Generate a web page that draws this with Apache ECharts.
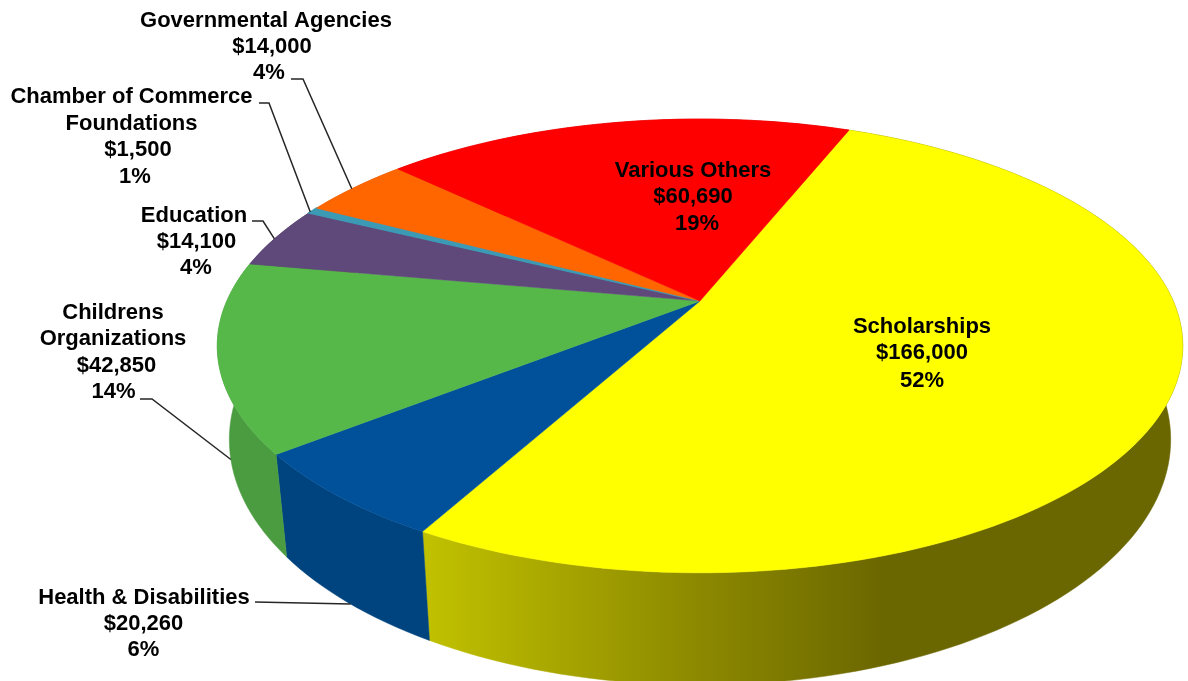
<!DOCTYPE html>
<html>
<head>
<meta charset="utf-8">
<title>Contributions</title>
<style>
  html, body { margin: 0; padding: 0; background: #fff; }
  #main { width: 1188px; height: 681px; }
</style>
<script src="https://cdn.jsdelivr.net/npm/echarts@6/dist/echarts.min.js"></script>
</head>
<body>
<div id="main"></div>
<script>
// clockwise from the first slice
const categories = [
  "Scholarships",
  "Health & Disabilities",
  "Childrens\nOrganizations",
  "Education",
  "Chamber of Commerce\nFoundations",
  "Governmental Agencies",
  "Various Others",
];
const amounts = [166000, 20260, 42850, 14100, 1500, 14000, 60690];
const percentLabels = ["52%", "6%", "14%", "4%", "1%", "4%", "19%"];

const topColors = ["#ffff00", "#00519a", "#55b848", "#5f497a", "#3c9ab5", "#ff6600", "#ff0000"];
const topStroke = [0.5, 0.5, 0.5, 0.5, 1.5, 0.5, 0.5];
const wallColors = [
  new echarts.graphic.LinearGradient(430, 0, 890, 0, [
    { offset: 0, color: "#c0c000" },
    { offset: 0.55, color: "#8f8c00" },
    { offset: 1, color: "#6a6600" },
  ], true),
  "#00447f",
  "#4b9c41",
  "#4c3a62",
  "#307b91",
  "#cc5200",
  "#cc0000",
];

// text line centres, leader start / knee, and where along the slice the leader lands
const labelLayout = [
  { lines: [[922, 327], [922, 353], [922, 381]] },
  { lines: [[144, 598], [143.5, 624], [143.5, 650]], leader: [[255, 602]], rim: "bottom", along: 0.48 },
  { lines: [[113, 313], [113, 339], [116.5, 366], [113.5, 392]], leader: [[140, 399], [152, 399]], rim: "bottom", along: 0.46 },
  { lines: [[194, 216], [196.5, 242], [196, 268]], leader: [[252, 221], [263, 221]], rim: "top", along: 0.47 },
  { lines: [[131.5, 97], [131.5, 124], [138, 150], [135, 177]], leader: [[259, 103], [269, 103]], rim: "top", along: 0.2 },
  { lines: [[266, 21], [272, 47], [269, 73]], leader: [[291, 79], [303, 79]], rim: "top", along: 0.46 },
  { lines: [[693, 171], [693, 197], [697, 224]] },
];

// tilted disc, seen in perspective
const cx = 700;
const cy = 301;
const radiusX = 473.2;
const radiusY = 218;
const tilt = 0.198;
const wallDrop = 90;
const bottomScale = 0.975;
const firstAngle = 21.9;

const total = amounts.reduce((a, b) => a + b, 0);
const sliceAngles = [];
let running = firstAngle;
amounts.forEach((v) => {
  sliceAngles.push([running, running + (v / total) * 360]);
  running += (v / total) * 360;
});

function topPoint(deg) {
  const t = (deg * Math.PI) / 180;
  const w = 1 + tilt * Math.cos(t);
  return [cx + (radiusX * Math.sin(t)) / w, cy - (radiusY * Math.cos(t)) / w];
}
function bottomPoint(deg) {
  const t = (deg * Math.PI) / 180;
  const w = 1 + tilt * Math.cos(t);
  return [
    cx + (bottomScale * radiusX * Math.sin(t)) / w,
    cy + (wallDrop - radiusY * Math.cos(t)) / w,
  ];
}
function arcAngles(start, end) {
  const steps = Math.max(2, Math.ceil((end - start) / 1.5));
  const list = [];
  for (let i = 0; i <= steps; i++) list.push(start + ((end - start) * i) / steps);
  return list;
}

function renderWall(params) {
  const [start, end] = sliceAngles[params.dataIndex];
  const angles = arcAngles(start, end);
  const points = angles.map(topPoint).concat(angles.reverse().map(bottomPoint));
  const color = wallColors[params.dataIndex];
  return {
    type: "polygon",
    shape: { points },
    style: { fill: color, stroke: color, lineWidth: 0.5 },
  };
}

function renderTop(params) {
  const i = params.dataIndex;
  const [start, end] = sliceAngles[i];
  const points = [[cx, cy]].concat(arcAngles(start, end).map(topPoint));
  return {
    type: "polygon",
    shape: { points },
    style: { fill: topColors[i], stroke: topColors[i], lineWidth: topStroke[i] },
  };
}

function renderLabel(params, api) {
  const i = params.dataIndex;
  const layout = labelLayout[i];
  const lines = categories[i].split("\n");
  lines.push("$" + api.value(0).toLocaleString("en-US"), percentLabels[i]);
  const children = lines.map((text, n) => ({
    type: "text",
    style: {
      x: layout.lines[n][0],
      y: layout.lines[n][1],
      text,
      fill: "#000",
      font: "bold 22px 'Liberation Sans', Arial, sans-serif",
      align: "center",
      verticalAlign: "middle",
    },
  }));
  if (layout.leader) {
    const [start, end] = sliceAngles[i];
    const angle = start + (end - start) * layout.along;
    const tip = layout.rim === "bottom" ? bottomPoint(angle) : topPoint(angle);
    children.push({
      type: "polyline",
      shape: { points: layout.leader.concat([tip]) },
      style: { fill: "none", stroke: "#262626", lineWidth: 1.5 },
    });
  }
  return { type: "group", children };
}

const chart = echarts.init(document.getElementById("main"), null, { renderer: "canvas" });
chart.setOption({
  animation: false,
  backgroundColor: "#ffffff",
  series: [
    { type: "custom", coordinateSystem: "none", renderItem: renderWall, data: amounts, z: 1, silent: true },
    { type: "custom", coordinateSystem: "none", renderItem: renderTop, data: amounts, z: 2, silent: true },
    { type: "custom", coordinateSystem: "none", renderItem: renderLabel, data: amounts, z: 3, silent: true },
  ],
});
</script>
</body>
</html>
